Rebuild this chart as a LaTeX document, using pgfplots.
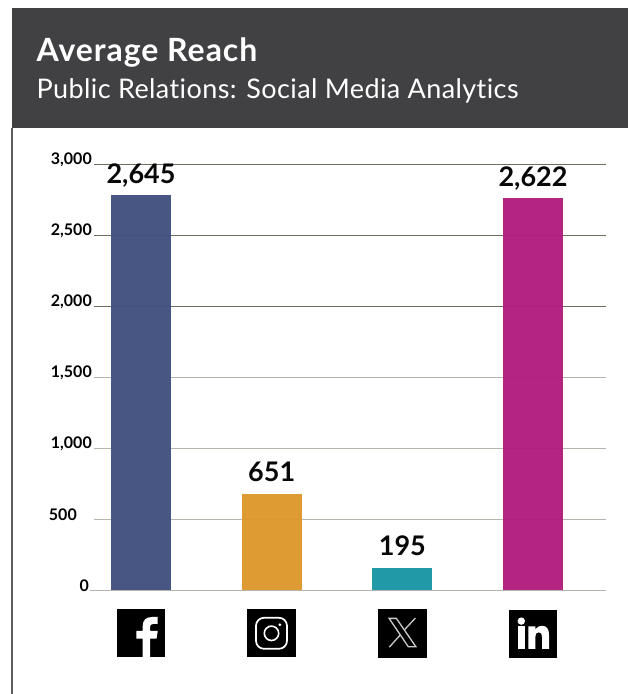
\documentclass[border=0pt]{standalone}
\usepackage{fontspec}
\setmainfont{Lato}[Ligatures=NoCommon]
\newfontfamily\titlefont{Lato}[Ligatures=NoCommon,LetterSpace=3]
\newfontfamily\subfont{Lato}[Ligatures=NoCommon,LetterSpace=1.5]
\usepackage{pgfplots}
\pgfplotsset{compat=1.18}
\definecolor{header}{HTML}{414042}
\definecolor{gridc}{HTML}{6E6E5F}
\definecolor{basec}{HTML}{B4B4AC}
\definecolor{fb}{HTML}{435180}
\definecolor{ig}{HTML}{DD982E}
\definecolor{tw}{HTML}{1B96A4}
\definecolor{li}{HTML}{B21D7D}
\newcommand{\fsz}[1]{\fontsize{#1}{#1}\selectfont}
% bar height as drawn, then the number printed above it
\pgfplotstableread{
x y label
0 2782 2645
}\facebook
\pgfplotstableread{
x y label
1 679 651
}\instagram
\pgfplotstableread{
x y label
2 158 195
}\xtwitter
\pgfplotstableread{
x y label
3 2761 2622
}\linkedin
\begin{document}
\begin{tikzpicture}[x=1bp,y=1bp]
\useasboundingbox (0,0) rectangle (628,694);
\fill[white] (0,0) rectangle (628,694);
% header band and left rule
\fill[header] (11.5,566) rectangle (628,686);
\draw[color=header!85,line width=1.2bp] (12,0) -- (12,566);
\node[anchor=base west,inner sep=0pt,text=white] at (36.5,632.5) {\fsz{32bp}\titlefont\bfseries Average Reach};
\node[anchor=base west,inner sep=0pt,text=white] at (36.5,595.5) {\fsz{27bp}\subfont Public Relations: Social Media Analytics};
\begin{axis}[
    at={(94bp,103.7bp)}, anchor=south west,
    scale only axis, width=511.5bp, height=426bp,
    xmin=-0.36, xmax=3.555, ymin=0, ymax=3000,
    clip=false,
    ybar, bar width=60bp, bar shift=0pt,
    axis x line*=bottom, axis y line*=left,
    x axis line style={draw=basec,line width=1.5bp,-,shorten <=-4bp},
    y axis line style={draw=none},
    xtick={0,1,2,3}, xticklabels={}, major tick length=0pt,
    ytick={2000,2500,3000},
    extra y ticks={0,500,1000,1500},
    extra y tick labels={\hspace*{-3bp}0\hspace*{3bp},500\hspace*{15bp},{1,000},{1,500}},
    extra y tick style={grid=major,major grid style={draw=basec,line width=1.1bp}},
    ymajorgrids, grid style={draw=gridc,line width=0.9bp},
    yticklabel style={font=\fsz{16bp}\bfseries,inner sep=0pt,yshift=4.5bp,xshift=-2bp},
    /pgf/number format/assume math mode=true,
    /pgf/number format/1000 sep={,},
    scaled y ticks=false,
    point meta=explicit,
    nodes near coords,
    every node near coord/.append style={font=\fsz{27bp}\bfseries,text=black,anchor=base,inner sep=0pt,yshift=12bp},
]
\addplot[draw=none,fill=fb,fill opacity=0.97] table[x=x,y=y,meta=label] {\facebook};
\addplot[draw=none,fill=ig,fill opacity=0.97] table[x=x,y=y,meta=label] {\instagram};
\addplot[draw=none,fill=tw,fill opacity=0.97] table[x=x,y=y,meta=label] {\xtwitter};
\addplot[draw=none,fill=li,fill opacity=0.97] table[x=x,y=y,meta=label] {\linkedin};
\coordinate (a) at (axis cs:0,0);
\coordinate (b) at (axis cs:1,0);
\coordinate (c) at (axis cs:2,0);
\coordinate (d) at (axis cs:3,0);
\end{axis}
% platform icons under the bars: origin is the top left of each 48 box, y runs down
\begin{scope}[shift={(a)},xshift=-24bp,yshift=-18.7bp,x=1bp,y=-1bp]
\fill[black] (0,0) rectangle (48,48.4);
\fill[white] (25.7,48.4) -- (25.7,29.7) -- (19.3,29.7) -- (19.3,22) -- (25.7,22) -- (25.7,17) .. controls (25.7,11) and (29,8) .. (35,8) -- (40.7,8) -- (40.7,15) -- (36,15) .. controls (34,15) and (33,16) .. (33,18) -- (33,22) -- (40.7,22) -- (39.5,29.7) -- (33,29.7) -- (33,48.4) -- cycle;
\end{scope}
\begin{scope}[shift={(b)},xshift=-24.5bp,yshift=-18.7bp,x=1bp,y=-1bp]
\fill[black] (0,0) rectangle (48.4,48.4);
\draw[white,line width=1.7bp,rounded corners=8bp] (8.8,8.8) rectangle (39.8,39.8);
\draw[white,line width=1.6bp] (24.3,24.3) circle[radius=7.2bp];
\fill[white] (32.7,15.7) circle[radius=1.5bp];
\end{scope}
\begin{scope}[shift={(c)},xshift=-24bp,yshift=-18.3bp,x=1bp,y=-1bp]
\fill[black] (0,0) rectangle (49,49);
\draw[white!80!black,line width=1.3bp,line join=miter] (10.8,9.8) -- (18,9.8) -- (37.6,38.2) -- (30,38.2) -- cycle;
\draw[white!80!black,line width=1.3bp] (37,9.5) -- (26.5,20.8) (21.8,26.5) -- (11,38.5);
\end{scope}
\begin{scope}[shift={(d)},xshift=-24bp,yshift=-19.5bp,x=1bp,y=-1bp]
\fill[black] (0,0) rectangle (48,48);
\fill[white] (12.3,11.3) circle[radius=3.7bp];
\fill[white] (8.7,16.7) rectangle (16,39);
\fill[white] (19.3,16.7) -- (26.3,16.7) -- (26.3,19.5) .. controls (28,17) and (30.5,16) .. (33,16) .. controls (38,16) and (40,19.5) .. (40,25) -- (40,39) -- (33,39) -- (33,27) .. controls (33,24) and (32,22.5) .. (29.8,22.5) .. controls (27.5,22.5) and (26.3,24) .. (26.3,27) -- (26.3,39) -- (19.3,39) -- cycle;
\end{scope}
\end{tikzpicture}
\end{document}
